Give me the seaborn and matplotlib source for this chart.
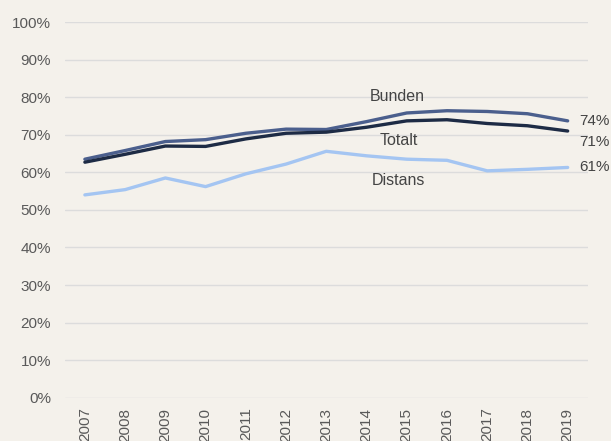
import numpy as np
import pandas as pd
import seaborn as sns
import matplotlib.pyplot as plt
from matplotlib import ticker

years = list(range(2007, 2020))
bunden = [63.5, 65.8, 68.2, 68.7, 70.4, 71.5, 71.4, 73.5, 75.8, 76.4, 76.2, 75.6, 73.7]
totalt = [62.7, 64.8, 67.0, 66.9, 68.9, 70.4, 70.7, 72.0, 73.7, 74.0, 73.0, 72.4, 71.0]
distans = [54.0, 55.4, 58.5, 56.2, 59.6, 62.2, 65.6, 64.4, 63.5, 63.2, 60.4, 60.8, 61.3]

series_names = ["Bunden", "Totalt", "Distans"]
colors = {"Bunden": "#4b5f8d", "Totalt": "#1d2b45", "Distans": "#a4c5f2"}

bg = "#f4f1eb"
sns.set_theme(style="white")
plt.rcParams['font.family'] = ['Arial', 'Liberation Sans', 'DejaVu Sans']

df = pd.DataFrame({"year": years, "Bunden": bunden, "Totalt": totalt, "Distans": distans})
long_df = df.melt(id_vars="year", var_name="serie", value_name="value")

fig, ax = plt.subplots(figsize=(6.11, 4.41), dpi=100)
fig.patch.set_facecolor(bg)
ax.set_facecolor(bg)
fig.subplots_adjust(left=0.106, right=0.962, top=0.95, bottom=0.098)

sns.lineplot(data=long_df, x="year", y="value", hue="serie", palette=colors,
             hue_order=series_names, linewidth=2.4, ax=ax, legend=False)

ax.set_xlim(2006.5, 2019.5)
ax.set_ylim(0, 100)
ax.set_yticks(np.arange(0, 101, 10))
ax.yaxis.set_major_formatter(ticker.FuncFormatter(lambda v, pos: f"{v:.0f}%"))
ax.set_xticks(years)
ax.set_xticklabels([str(y) for y in years], rotation=90)
ax.tick_params(axis="both", labelsize=11, labelcolor="#595959", length=0)
ax.tick_params(axis="y", pad=10)
ax.tick_params(axis="x", pad=7)
ax.grid(axis="y", color="#dcdcdc", linewidth=1)
ax.set_axisbelow(True)
for s in ax.spines.values():
    s.set_visible(False)
ax.set_xlabel("")
ax.set_ylabel("")

# series labels
txt = dict(fontsize=11.5, color="#444444", ha="center", va="center")
ax.text(2014.76, 80.3, "Bunden", **txt)
ax.text(2014.8, 68.4, "Totalt", **txt)
ax.text(2014.8, 57.9, "Distans", **txt)

# end value labels
end = dict(fontsize=11, color="#444444", ha="left", va="center")
ax.text(2019.3, 73.6, f"{bunden[-1]:.0f}%", **end)
ax.text(2019.3, 68.1, f"{totalt[-1]:.0f}%", **end)
ax.text(2019.3, 61.4, f"{distans[-1]:.0f}%", **end)

plt.savefig("out.png", dpi=100, facecolor=bg)
